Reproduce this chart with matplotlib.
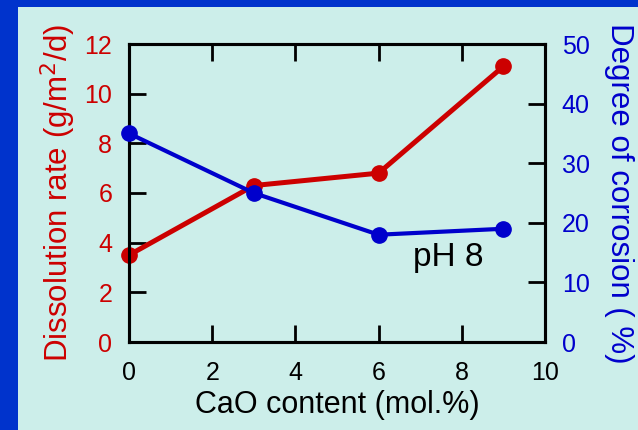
import matplotlib
matplotlib.use('Agg')
import matplotlib.pyplot as plt
from matplotlib.patches import Rectangle

plt.rcParams['font.family'] = ['Liberation Sans', 'DejaVu Sans']

# data
cao = [0, 3, 6, 9]
dissolution = [3.5, 6.3, 6.8, 11.1]
corrosion = [35, 25, 18, 19]

x_ticks = [0, 2, 4, 6, 8, 10]
left_ticks = [0, 2, 4, 6, 8, 10, 12]
right_ticks = [0, 10, 20, 30, 40, 50]

RED = '#cc0000'
BLUE = '#0000cc'
BG = '#cceeea'
FRAME = '#0033cc'

fig = plt.figure(figsize=(6.38, 4.30), dpi=100)
fig.patch.set_facecolor(BG)

# blue frame strips (top and left)
fig.patches.append(Rectangle((0, 1 - 7 / 430), 1, 7 / 430, transform=fig.transFigure,
                             facecolor=FRAME, edgecolor='none', zorder=0))
fig.patches.append(Rectangle((0, 0), 18 / 638, 1, transform=fig.transFigure,
                             facecolor=FRAME, edgecolor='none', zorder=0))

ax = fig.add_axes([129 / 638, 1 - 342 / 430, (545 - 129) / 638, (342 - 44) / 430])
ax.set_facecolor('none')
ax2 = ax.twinx()

ax.plot(cao, dissolution, color=RED, lw=3.6, marker='o', ms=11, clip_on=False, zorder=3)
ax2.plot(cao, corrosion, color=BLUE, lw=3.0, marker='o', ms=11, clip_on=False, zorder=3)

ax.set_xlim(0, 10)
ax.set_ylim(0, 12)
ax2.set_ylim(0, 50)
ax.set_xticks(x_ticks)
ax.set_yticks(left_ticks)
ax2.set_yticks(right_ticks)

for a in (ax, ax2):
    for s in a.spines.values():
        s.set_linewidth(2.2)
        s.set_color('black')

ax.tick_params(axis='x', direction='in', length=12, width=2, top=True,
               labelsize=18, pad=14, colors='black')
ax.tick_params(axis='y', direction='in', length=12, width=2, labelsize=18,
               pad=12, color='black', labelcolor=RED)
ax2.tick_params(axis='y', direction='in', length=12, width=2, labelsize=18,
                pad=12, color='black', labelcolor=BLUE)

ax.set_xlabel('CaO content (mol.%)', fontsize=22, labelpad=3)
ax.set_ylabel('Dissolution rate (g/m$^2$/d)', fontsize=22.5, color=RED, labelpad=5)
ax2.set_ylabel('Degree of corrosion ( %)', fontsize=22.5, color=BLUE, rotation=270,
               labelpad=32)

ax.text(6.83, 3.05, 'pH 8', fontsize=24, ha='left', va='baseline')

fig.savefig('out.png', dpi=100, facecolor=fig.get_facecolor())
